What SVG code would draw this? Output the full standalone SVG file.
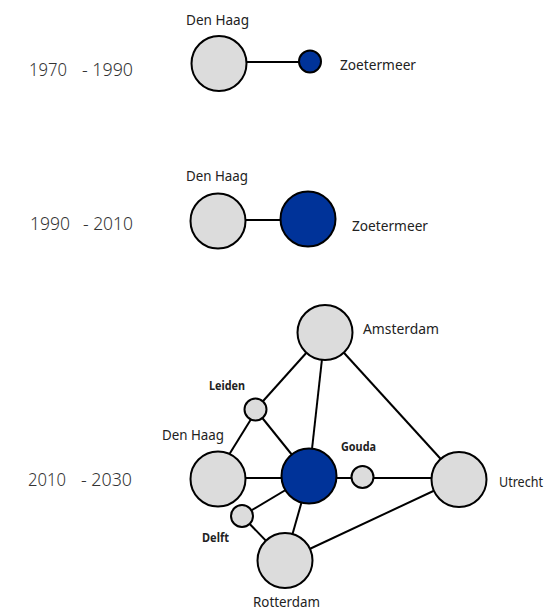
<svg xmlns="http://www.w3.org/2000/svg" width="550" height="611" viewBox="0 0 550 611">
<style>
  .big{fill:#dcdcdc;stroke:#000;stroke-width:2}
  .blue{fill:#003399;stroke:#000;stroke-width:2}
  .edge{stroke:#000;stroke-width:2;fill:none}
  .lbl{font-family:"Noto Sans","Open Sans",sans-serif;font-size:15px;fill:#222}
  .bold{font-family:"Noto Sans","Open Sans",sans-serif;font-size:12.5px;font-weight:bold;fill:#222}
  .year{font-family:"Noto Sans","Open Sans",sans-serif;font-size:19px;font-weight:300;fill:#333}
</style>
<rect width="550" height="611" fill="#fff"/>
<g id="years">
  <text class="year" y="76"><tspan x="29" textLength="38" lengthAdjust="spacingAndGlyphs">1970</tspan><tspan x="82" textLength="51" lengthAdjust="spacingAndGlyphs">- 1990</tspan></text>
  <text class="year" y="230"><tspan x="30" textLength="40" lengthAdjust="spacingAndGlyphs">1990</tspan><tspan x="83" textLength="50" lengthAdjust="spacingAndGlyphs">- 2010</tspan></text>
  <text class="year" y="486"><tspan x="28" textLength="38" lengthAdjust="spacingAndGlyphs">2010</tspan><tspan x="81" textLength="51" lengthAdjust="spacingAndGlyphs">- 2030</tspan></text>
</g>
<g id="connectors">
  <line class="edge" x1="219" y1="62" x2="310" y2="62"/>
  <line class="edge" x1="218" y1="220" x2="308" y2="220"/>
  <line class="edge" x1="325" y1="332" x2="255.5" y2="409.5"/>
  <line class="edge" x1="325" y1="332" x2="309" y2="476"/>
  <line class="edge" x1="325" y1="332" x2="459" y2="479"/>
  <line class="edge" x1="257" y1="409.5" x2="214" y2="479"/>
  <line class="edge" x1="255.5" y1="409.5" x2="309" y2="476"/>
  <line class="edge" x1="218" y1="478" x2="459" y2="478"/>
  <line class="edge" x1="309" y1="476" x2="242" y2="516"/>
  <line class="edge" x1="242" y1="516" x2="285" y2="560.5"/>
  <line class="edge" x1="309" y1="476" x2="285" y2="560.5"/>
  <line class="edge" x1="285" y1="560.5" x2="459" y2="479"/>
</g>
<g id="n1970-denhaag"><circle class="big" cx="219" cy="63.5" r="27.5"/><text class="lbl" x="186" y="25" textLength="63" lengthAdjust="spacingAndGlyphs">Den Haag</text></g>
<g id="n1970-zoetermeer"><circle class="blue" cx="310" cy="61.5" r="11"/><text class="lbl" x="340" y="70" textLength="76" lengthAdjust="spacingAndGlyphs">Zoetermeer</text></g>
<g id="n1990-denhaag"><circle class="big" cx="218" cy="221" r="27.5"/><text class="lbl" x="186" y="181" textLength="62" lengthAdjust="spacingAndGlyphs">Den Haag</text></g>
<g id="n1990-zoetermeer"><circle class="blue" cx="308" cy="219" r="27.5"/><text class="lbl" x="352" y="231" textLength="76" lengthAdjust="spacingAndGlyphs">Zoetermeer</text></g>
<g id="amsterdam"><circle class="big" cx="325" cy="332.5" r="27.5"/><text class="lbl" x="363" y="334" textLength="76" lengthAdjust="spacingAndGlyphs">Amsterdam</text></g>
<g id="leiden"><circle class="big" cx="255.5" cy="409.5" r="11"/><text class="bold" x="209" y="390" textLength="36" lengthAdjust="spacingAndGlyphs">Leiden</text></g>
<g id="denhaag"><circle class="big" cx="218" cy="479" r="27.5"/><text class="lbl" x="162" y="440" textLength="62" lengthAdjust="spacingAndGlyphs">Den Haag</text></g>
<g id="zoetermeer"><circle class="blue" cx="309" cy="476" r="27.5"/></g>
<g id="gouda"><circle class="big" cx="362.5" cy="477" r="11"/><text class="bold" x="341" y="451" textLength="35" lengthAdjust="spacingAndGlyphs">Gouda</text></g>
<g id="utrecht"><circle class="big" cx="459" cy="479.5" r="27.5"/><text class="lbl" x="499" y="487" font-size="14" textLength="44" lengthAdjust="spacingAndGlyphs" style="font-size:14px">Utrecht</text></g>
<g id="delft"><circle class="big" cx="242" cy="516" r="11"/><text class="bold" x="202" y="542" textLength="27" lengthAdjust="spacingAndGlyphs">Delft</text></g>
<g id="rotterdam"><circle class="big" cx="285" cy="560.5" r="27.5"/><text class="lbl" x="253" y="607" textLength="67" lengthAdjust="spacingAndGlyphs">Rotterdam</text></g>
</svg>
